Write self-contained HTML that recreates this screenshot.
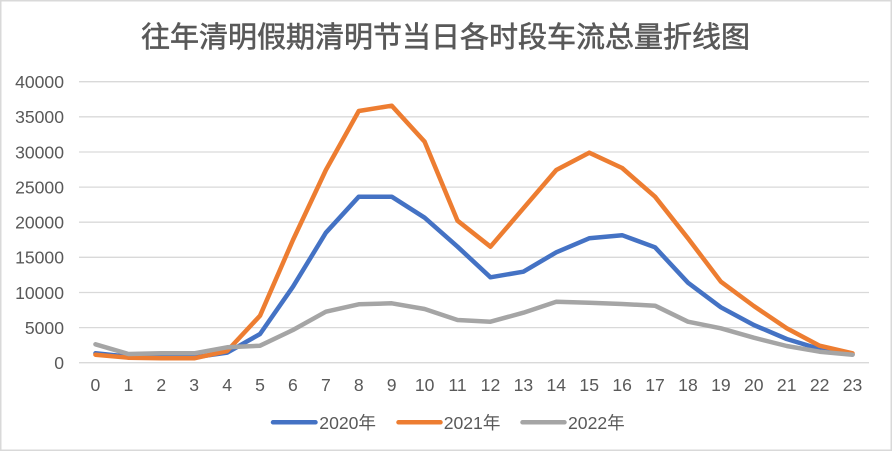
<!DOCTYPE html>
<html>
<head>
<meta charset="utf-8">
<style>
  html,body{margin:0;padding:0;background:#fff;}
  body{width:893px;height:452px;overflow:hidden;}
  svg{display:block;}
  text{font-family:"Liberation Sans","Noto Sans CJK SC",sans-serif;fill:#595959;}
</style>
</head>
<body>
<svg width="893" height="452" viewBox="0 0 893 452" xmlns="http://www.w3.org/2000/svg">
  <rect x="0" y="0" width="893" height="452" fill="#fff"/>
  <rect x="0.75" y="0.75" width="890.5" height="449.5" fill="none" stroke="#d9d9d9" stroke-width="1.5"/>

  <text x="445.5" y="47" text-anchor="middle" font-size="29" stroke="#595959" stroke-width="0.6" style="font-family:'Noto Sans CJK SC','WenQuanYi Zen Hei',sans-serif;">往年清明假期清明节当日各时段车流总量折线图</text>

  <!-- gridlines -->
  <g stroke="#d9d9d9" stroke-width="1.3">
    <line x1="79" x2="869" y1="81.7" y2="81.7"/>
    <line x1="79" x2="869" y1="116.8" y2="116.8"/>
    <line x1="79" x2="869" y1="152" y2="152"/>
    <line x1="79" x2="869" y1="187.1" y2="187.1"/>
    <line x1="79" x2="869" y1="222.2" y2="222.2"/>
    <line x1="79" x2="869" y1="257.3" y2="257.3"/>
    <line x1="79" x2="869" y1="292.5" y2="292.5"/>
    <line x1="79" x2="869" y1="327.6" y2="327.6"/>
    <line x1="79" x2="869" y1="362.7" y2="362.7"/>
  </g>

  <!-- y labels -->
  <g font-size="17.6" text-anchor="end">
    <text x="64" y="88">40000</text>
    <text x="64" y="123.1">35000</text>
    <text x="64" y="158.3">30000</text>
    <text x="64" y="193.4">25000</text>
    <text x="64" y="228.5">20000</text>
    <text x="64" y="263.6">15000</text>
    <text x="64" y="298.8">10000</text>
    <text x="64" y="333.9">5000</text>
    <text x="64" y="369">0</text>
  </g>

  <!-- x labels -->
  <g font-size="17.6" text-anchor="middle">
    <text x="95.46" y="391">0</text>
    <text x="128.38" y="391">1</text>
    <text x="161.29" y="391">2</text>
    <text x="194.21" y="391">3</text>
    <text x="227.13" y="391">4</text>
    <text x="260.04" y="391">5</text>
    <text x="292.96" y="391">6</text>
    <text x="325.88" y="391">7</text>
    <text x="358.79" y="391">8</text>
    <text x="391.71" y="391">9</text>
    <text x="424.63" y="391">10</text>
    <text x="457.54" y="391">11</text>
    <text x="490.46" y="391">12</text>
    <text x="523.38" y="391">13</text>
    <text x="556.29" y="391">14</text>
    <text x="589.21" y="391">15</text>
    <text x="622.13" y="391">16</text>
    <text x="655.04" y="391">17</text>
    <text x="687.96" y="391">18</text>
    <text x="720.88" y="391">19</text>
    <text x="753.79" y="391">20</text>
    <text x="786.71" y="391">21</text>
    <text x="819.63" y="391">22</text>
    <text x="852.54" y="391">23</text>
  </g>

  <!-- series -->
  <g fill="none" stroke-width="4.5" stroke-linejoin="round" stroke-linecap="round">
    <polyline stroke="#4472C4" points="95.46,353.3 128.38,356.7 161.29,357.3 194.21,357.3 227.13,352.7 260.04,334 292.96,286.7 325.88,232.7 358.79,196.7 391.71,196.7 424.63,217.7 457.54,246.7 490.46,277.3 523.38,271.7 556.29,252.3 589.21,238.3 622.13,235.2 655.04,247.3 687.96,282.7 720.88,307.3 753.79,325 786.71,339 819.63,349 852.54,354.5"/>
    <polyline stroke="#ED7D31" points="95.46,354.7 128.38,357.7 161.29,358.3 194.21,358.3 227.13,351 260.04,315.7 292.96,240 325.88,170 358.79,111 391.71,105.7 424.63,141.7 457.54,220.7 490.46,246.7 523.38,208.3 556.29,170 589.21,152.7 622.13,168 655.04,196.7 687.96,238.3 720.88,281.7 753.79,306 786.71,328.3 819.63,345.7 852.54,353.3"/>
    <polyline stroke="#A5A5A5" points="95.46,344.3 128.38,354 161.29,353.3 194.21,353.3 227.13,347.3 260.04,345.7 292.96,330 325.88,311.7 358.79,304.3 391.71,303.3 424.63,309 457.54,320 490.46,321.7 523.38,312.7 556.29,301.7 589.21,302.7 622.13,304 655.04,305.7 687.96,321.7 720.88,328.3 753.79,337.7 786.71,346 819.63,351.7 852.54,354.7"/>
  </g>

  <!-- legend -->
  <g stroke-width="4.5" stroke-linecap="round">
    <line x1="273" x2="315.5" y1="422.3" y2="422.3" stroke="#4472C4"/>
    <line x1="398.5" x2="440.5" y1="422.3" y2="422.3" stroke="#ED7D31"/>
    <line x1="522.5" x2="564.5" y1="422.3" y2="422.3" stroke="#A5A5A5"/>
  </g>
  <g font-size="17.6">
    <text x="319.3" y="429">2020年</text>
    <text x="443.7" y="429">2021年</text>
    <text x="568" y="429">2022年</text>
  </g>
</svg>
</body>
</html>
